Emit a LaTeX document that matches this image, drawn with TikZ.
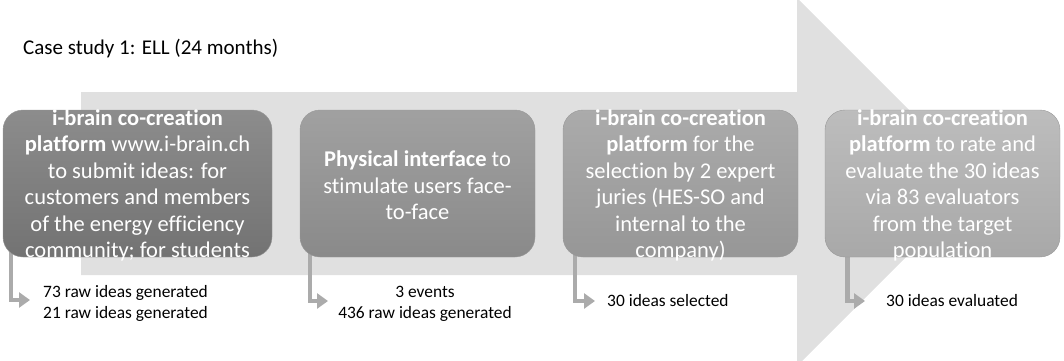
\documentclass[tikz,border=0pt]{standalone}
\usepackage{fontspec}
\setmainfont{Carlito}[Ligatures=NoCommon]
\usetikzlibrary{arrows.meta,backgrounds,calc}
\begin{document}
\begin{tikzpicture}[x=1pt,y=-1pt,
  box/.style={rounded corners=20pt, minimum width=235pt, minimum height=147pt, inner sep=0pt, draw=black!40, line width=0.4pt},
  boxtext/.style={text=white, align=center, inner sep=0pt, font=\fontsize{22.5}{26.4}\selectfont},
  lbl/.style={inner sep=0pt, font=\fontsize{17.4}{21}\selectfont},
  bent/.style={draw=black!33, line width=4.5pt, -{Triangle[width=15pt,length=11pt]}},
  bigarrow/.style={fill=black!12}]
\useasboundingbox (0,0) rectangle (1064,360);

\node[anchor=west, inner sep=0pt, font=\fontsize{21}{25}\selectfont] (title) at (23,49) {Case study 1: ELL (24 months)};

\node[box, minimum width=269pt, top color=black!45, bottom color=black!55] (b1) at (137.5,183.5) {};
\node[box, top color=black!37, bottom color=black!46] (b2) at (417.5,183.5) {};
\node[box, top color=black!33, bottom color=black!41] (b3) at (680.5,183.5) {};
\node[box, top color=black!26, bottom color=black!34] (b4) at (942.5,183.5) {};

\node[boxtext] (t1) at ([yshift=-2pt]b1.center) {\textbf{i-brain co-creation}\\\textbf{platform} www.i-brain.ch\\to submit ideas: for\\customers and members\\of the energy efficiency\\community; for students};
\node[boxtext] (t2) at ([yshift=-2pt]b2.center) {\textbf{Physical interface} to\\stimulate users face-\\to-face};
\node[boxtext] (t3) at ([yshift=-2pt]b3.center) {\textbf{i-brain co-creation}\\\textbf{platform} for the\\selection by 2 expert\\juries (HES-SO and\\internal to the\\company)};
\node[boxtext] (t4) at ([yshift=-2pt]b4.center) {\textbf{i-brain co-creation}\\\textbf{platform} to rate and\\evaluate the 30 ideas\\via 83 evaluators\\from the target\\population};

\node[lbl, anchor=west, align=left] (l1) at (43,303.5) {73 raw ideas generated\\21 raw ideas generated};
\node[lbl, align=center] (l2) at (425,303.5) {3 events\\436 raw ideas generated};
\node[lbl, anchor=west] (l3) at (607,301) {30 ideas selected};
\node[lbl, anchor=west] (l4) at (886,301) {30 ideas evaluated};

\coordinate (a1) at (30,300);
\coordinate (a2) at (328,301);
\coordinate (a3) at (595,301);
\coordinate (a4) at (865,301);

\begin{scope}[on background layer]
\fill[bigarrow] (81,92) -- (797,92) -- (797,-2) -- (981,182) -- (797,366) -- (797,275) -- (81,275) -- cycle;
\draw[bent] ([xshift=8pt,yshift=10pt]b1.south west) |- (a1);
\draw[bent] ([xshift=10pt,yshift=10pt]b2.south west) |- (a2);
\draw[bent] ([xshift=12pt,yshift=10pt]b3.south west) |- (a3);
\draw[bent] ([xshift=22.5pt,yshift=10pt]b4.south west) |- (a4);
\end{scope}
\end{tikzpicture}
\end{document}
